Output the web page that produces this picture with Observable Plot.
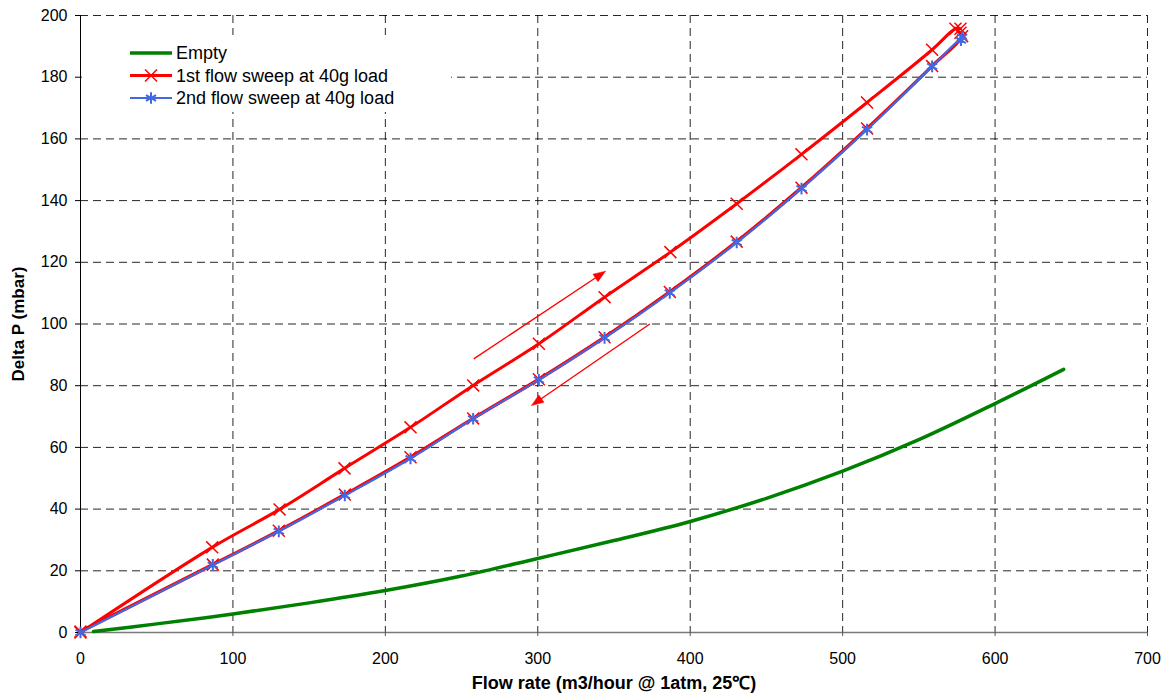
<!DOCTYPE html>
<html>
<head>
<meta charset="utf-8">
<script src="https://cdn.jsdelivr.net/npm/d3@7"></script>
<script src="https://cdn.jsdelivr.net/npm/@observablehq/plot@0.6"></script>
<style>
  body { margin: 0; background: white; }
  #wrap { position: relative; width: 1167px; height: 699px; font-family: "Liberation Sans", Arial, sans-serif; }
  #legend { position: absolute; left: 82px; top: 35px; width: 369px; height: 77px; background: white; }
</style>
</head>
<body>
<div id="wrap"><div id="chart"></div><div id="legend"></div></div>
<script>
// ---- data ----
const xTicks = [0, 100, 200, 300, 400, 500, 600, 700];
const yTicks = [0, 20, 40, 60, 80, 100, 120, 140, 160, 180, 200];

const emptyFlow = [8.5, 50, 100, 150, 200, 250, 300, 350, 400, 450, 500, 550, 600, 645];
const emptyDP   = [0.3, 2.8, 6.0, 9.6, 13.6, 18.3, 24.0, 29.8, 36.0, 43.5, 52.3, 62.5, 74.2, 85.3];

// 1st sweep: flow increasing (upper path) then decreasing (lower path)
const sweep1UpFlow   = [0, 86.4, 130.6, 173.2, 216.5, 257.6, 300.7, 343.8, 387.0, 430.5, 473.0, 516.0, 558.7, 574.0, 577.3];
const sweep1UpDP     = [0, 27.6, 39.9, 53.2, 66.5, 80.1, 93.6, 108.7, 123.3, 139.0, 155.0, 171.8, 188.9, 195.7, 195.7];
const sweep1DownFlow = [577.3, 578.4, 558.7, 516.0, 473.0, 430.5, 386.6, 343.8, 300.7, 257.6, 216.5, 173.4, 130.1, 86.8, 0];
const sweep1DownDP   = [194.4, 193.3, 183.6, 163.4, 144.2, 126.7, 110.4, 95.7, 82.1, 69.4, 56.8, 44.7, 33.0, 22.0, 0.3];

// 2nd sweep (follows the lower path)
const sweep2Flow = [0, 86.8, 130.1, 173.4, 216.5, 257.6, 300.7, 343.8, 386.6, 430.5, 473.0, 516.0, 558.7, 578.4, 577.6];
const sweep2DP   = [0, 21.9, 32.8, 44.4, 56.4, 69.3, 81.9, 95.5, 110.1, 126.4, 143.9, 163.0, 183.5, 193.0, 192.0];

// direction arrows (annotation, in data units)
const arrowFromFlow = [258, 373.5];
const arrowFromDP   = [88.7, 100.0];
const arrowToFlow   = [344.4, 295.9];
const arrowToDP     = [117.1, 73.6];

const xLabel = "Flow rate (m3/hour @ 1atm, 25\u2103)";
const yLabel = "Delta P (mbar)";
const legendNames = ["Empty", "1st flow sweep at 40g load", "2nd flow sweep at 40g load"];

// ---- build tables ----
const zip = (xs, ys) => xs.map((x, i) => ({x, y: ys[i]}));
const empty = zip(emptyFlow, emptyDP);
const up1 = zip(sweep1UpFlow, sweep1UpDP);
const down1 = zip(sweep1DownFlow, sweep1DownDP);
const s2 = zip(sweep2Flow, sweep2DP);
const arrows = arrowFromFlow.map((x1, i) => ({x1, y1: arrowFromDP[i], x2: arrowToFlow[i], y2: arrowToDP[i]}));

const RED = "#FF0000", GREEN = "#008000", BLUE = "#4169E1";

const base = {
  width: 1167, height: 699,
  marginLeft: 80, marginRight: 20, marginTop: 15, marginBottom: 67,
  x: {domain: [0, 700]},
  y: {domain: [0, 200]},
  style: {fontFamily: "'Liberation Sans', Arial, sans-serif", fontSize: "16px", color: "black", background: "white", overflow: "visible"}
};

// first pass to get the scales, used to shape the filled arrowheads
const probe = Plot.plot({...base, marks: [Plot.frame()]});
const sx = probe.scale("x"), sy = probe.scale("y");
const HEAD_LEN = 12, HEAD_HALF = 4.5; // px
const headPts = [];
const shafts = arrows.map((a, k) => {
  const px1 = sx.apply(a.x1), py1 = sy.apply(a.y1), px2 = sx.apply(a.x2), py2 = sy.apply(a.y2);
  const L = Math.hypot(px2 - px1, py2 - py1);
  const ux = (px2 - px1) / L, uy = (py2 - py1) / L;
  const bx = px2 - ux * HEAD_LEN, by = py2 - uy * HEAD_LEN;
  const nx = -uy, ny = ux;
  [[px2, py2], [bx + nx * HEAD_HALF, by + ny * HEAD_HALF], [bx - nx * HEAD_HALF, by - ny * HEAD_HALF], [px2, py2]]
    .forEach(([px, py]) => headPts.push({x: sx.invert(px), y: sy.invert(py), k}));
  return {x1: a.x1, y1: a.y1, x2: sx.invert(bx + ux * 2), y2: sy.invert(by + uy * 2)};
});

const chart = Plot.plot({
  ...base,
  marks: [
    Plot.gridX(xTicks.slice(1), {stroke: "#000", strokeOpacity: 0.85, strokeDasharray: "8,5"}),
    Plot.gridY(yTicks.slice(1), {stroke: "#000", strokeOpacity: 0.85, strokeDasharray: "8,5"}),
    Plot.ruleY([0], {stroke: "#7a7a7a", strokeWidth: 1.5}),
    Plot.ruleX([0], {stroke: "#000", strokeWidth: 1}),
    Plot.axisX(xTicks, {tickSize: 4, tickPadding: 16, label: null, stroke: "#555"}),
    Plot.axisY(yTicks, {tickSize: 5, tickPadding: 8, label: null}),
    Plot.line(empty, {x: "x", y: "y", stroke: GREEN, strokeWidth: 3.5, curve: "catmull-rom"}),
    Plot.line(down1, {x: "x", y: "y", stroke: RED, strokeWidth: 3.4, curve: "catmull-rom"}),
    Plot.dot(down1, {x: "x", y: "y", symbol: "times", r: 5.5, stroke: RED, strokeWidth: 1.5}),
    Plot.line(up1, {x: "x", y: "y", stroke: RED, strokeWidth: 3, curve: "catmull-rom"}),
    Plot.dot(up1, {x: "x", y: "y", symbol: "times", r: 5.5, stroke: RED, strokeWidth: 1.5}),
    Plot.line(s2, {x: "x", y: "y", stroke: BLUE, strokeWidth: 2.2, curve: "catmull-rom"}),
    Plot.dot(s2, {x: "x", y: "y", symbol: "asterisk", r: 5.5, stroke: BLUE, strokeWidth: 2}),
    Plot.link(shafts, {x1: "x1", y1: "y1", x2: "x2", y2: "y2", stroke: RED, strokeWidth: 1.4}),
    Plot.line(headPts, {x: "x", y: "y", z: "k", fill: RED, stroke: RED, strokeWidth: 0.5}),
    Plot.text([xLabel], {frameAnchor: "bottom", dy: 56, text: d => d, fontWeight: "bold", fontSize: 18}),
    Plot.text([yLabel], {frameAnchor: "left", textAnchor: "middle", dx: -62, rotate: -90, text: d => d, fontWeight: "bold", fontSize: 17})
  ]
});
document.getElementById("chart").appendChild(chart);

// ---- legend (overlay, covers grid like the original) ----
const legendColors = [GREEN, RED, BLUE];
const legendWidths = [3.5, 3, 2];
const legendSymbols = [null, d3.symbolTimes, d3.symbolAsterisk];
const lg = d3.select("#legend").append("svg").attr("width", 369).attr("height", 77)
  .style("font-family", "'Liberation Sans', Arial, sans-serif");
legendNames.forEach((name, i) => {
  const cy = 18 + i * 22.5;
  const g = lg.append("g");
  g.append("line").attr("x1", 48).attr("x2", 90).attr("y1", cy).attr("y2", cy)
    .attr("stroke", legendColors[i]).attr("stroke-width", legendWidths[i]);
  if (legendSymbols[i]) {
    g.append("path").attr("d", d3.symbol(legendSymbols[i], 95)()).attr("transform", `translate(69,${cy})`)
      .attr("fill", "none").attr("stroke", legendColors[i]).attr("stroke-width", i === 1 ? 1.5 : 2);
  }
  g.append("text").attr("x", 94).attr("y", cy).attr("dy", "0.35em").attr("font-size", 18).text(name);
});
</script>
</body>
</html>
